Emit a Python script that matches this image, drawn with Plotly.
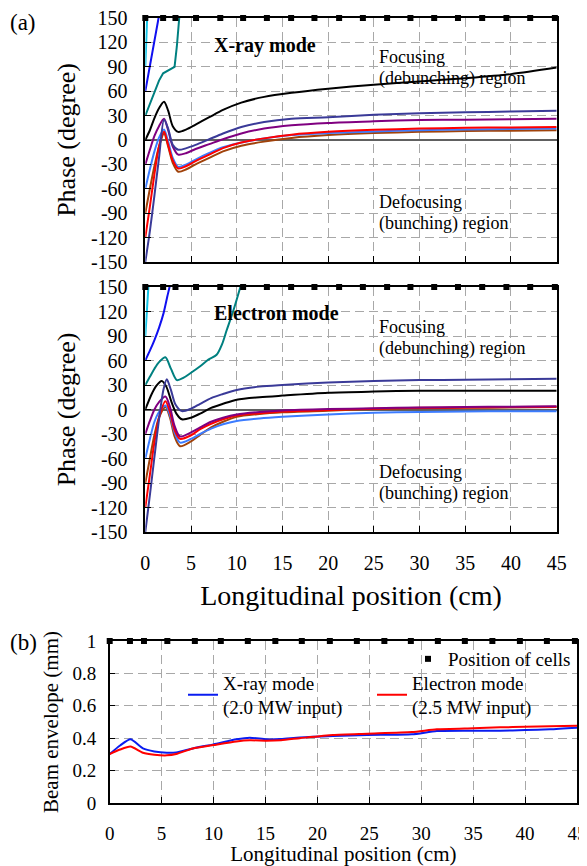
import plotly.graph_objects as go

# browser page has an 8px body margin; figure shifted to compensate
OFF = 8
W, H = 587 - OFF, 866 - OFF
FONT = "Liberation Serif"

# ---------------- data ----------------
cell_positions = [0, 1.95, 3.3, 5.55, 8.2, 10.7, 13.3, 15.95, 18.5, 21.2, 23.8,
                  26.45, 29.0, 31.6, 34.2, 36.85, 39.5, 42.1, 44.8]

phase_ticks = [-150, -120, -90, -60, -30, 0, 30, 60, 90, 120, 150]
phase_tick_labels = ["-150", "-120", "-90", "-60", "-30", "0", "30", "60", "90", "120", "150"]
pos_ticks = [0, 5, 10, 15, 20, 25, 30, 35, 40, 45]
env_ticks = [0, 0.2, 0.4, 0.6, 0.8, 1]
env_tick_labels = ["0", "0.2", "0.4", "0.6", "0.8", "1"]

# X-ray mode phase curves
xr_grid = [0, 0.5, 1.0, 1.5, 2.05, 2.5, 3.0, 3.6, 4.5, 5.5, 7, 8.5, 10.5, 13, 16, 20, 25, 30, 35, 40, 45]
xr_black = [0, 12, 27, 39, 47, 36, 17, 10, 13, 19, 28, 37, 46, 53, 58, 63, 68, 72, 76, 81, 89]
xr_navy = [-150, -112, -68, -22, 25, 14, -6, -12, -10, -6, 1, 8, 16, 22, 26, 28, 31, 33, 34, 35, 36]
xr_purple = [-30, -12, 5, 17, 26, 12, -8, -18, -16, -11, -5, 1, 8, 14, 18, 21, 23, 24.5, 25, 25.5, 26]
xr_lightblue = [-60, -36, -14, 3, 13, -2, -22, -33, -30, -24, -16, -9, -3, 2, 6, 8.5, 10.5, 12, 13, 13.5, 14]
xr_red = [-120, -82, -42, -8, 10, -6, -25, -35, -32, -26, -18, -10, -3, 2, 6.5, 10, 12.5, 14, 15, 15.5, 16]
xr_brown = [-90, -60, -32, -8, 8, -8, -28, -39, -36, -30, -22, -14, -7, -2, 2.5, 6, 8.5, 10, 11, 11.5, 12]
xr_teal_x = [0, 0.5, 1.0, 1.5, 1.95, 2.6, 3.2, 3.45, 3.7, 3.9]
xr_teal = [30, 45, 60, 73, 82, 86, 90, 115, 150, 175]
xr_blue_x = [0, 1.45, 1.7]
xr_blue = [60, 150, 180]
xr_cyan_x = [0, 0.2, 0.3]
xr_cyan = [90, 150, 180]

# Electron mode phase curves
el_grid = [0, 0.5, 1.0, 1.5, 2.2, 2.7, 3.2, 3.8, 5.0, 6.0, 7.2, 8.5, 10, 12.5, 15, 20, 25, 30, 35, 40, 45]
el_purple = [-30, -14, 0, 9, 16, 3, -20, -33, -28, -22, -15, -10, -6, -3, -1.2, 0.5, 1.5, 2.5, 3, 3.5, 4]
el_red = [-120, -80, -40, -10, 10, -3, -25, -36, -31.6, -24, -17.4, -12, -7.3, -4.5, -2.4, -0.5, 1, 2, 2.5, 3, 3.5]
el_brown = [-90, -60, -31, -10, 3, -10, -33, -45, -39, -31, -22, -15, -9, -5.5, -3.5, -1.5, 0.5, 1.5, 2, 2.5, 3]
el_lightblue = [-60, -36, -15, -3, 5, -7, -28, -40.5, -36, -30, -23.5, -18, -14, -11, -9, -6, -4, -3, -2.5, -2, -2]
el_black_x = [0, 0.7, 1.2, 1.8, 2.3, 2.9, 3.4, 4.0, 5.0, 6.0, 7.2, 8.5, 10, 12.5, 15, 20, 25, 30, 35, 40, 45]
el_black = [0, 19, 29, 35, 28, 8, -5, -12, -10, -5, 2, 7, 12, 15, 17, 20.5, 22, 23, 23, 23, 23]
el_navy_x = [0, 0.5, 1.0, 1.5, 2.0, 2.35, 2.8, 3.3, 4.0, 5.0, 6.0, 7.2, 8.5, 10, 12.5, 15, 20, 25, 30, 35, 40, 45]
el_navy = [-150, -105, -58, -12, 25, 37, 24, 6, -2, 1, 7, 14, 19, 24, 28, 30, 33, 35, 36, 36.5, 37, 37.5]
el_teal_x = [0, 0.5, 1.0, 1.5, 2.2, 2.8, 3.45, 4.2, 5.0, 6.0, 6.9, 7.8, 8.4, 8.9, 9.6, 10.4, 10.7]
el_teal = [30, 40, 50, 58, 64, 50, 36, 39, 45, 53, 61, 67, 80, 97, 120, 150, 162]
el_blue_x = [0, 0.5, 1.0, 1.5, 2.0, 2.4, 2.65, 2.8]
el_blue = [60, 72, 85, 100, 118, 138, 150, 160]
el_cyan_x = [0, 0.33, 0.45]
el_cyan = [90, 150, 170]

# Beam envelope
env_x = [0, 1.0, 2.0, 3.2, 4.3, 5.5, 6.4, 8.0, 10.0, 12.2, 13.5, 15.1, 16.5, 18.3, 21.5, 24.8, 29.1, 31.5, 35, 37.6, 40, 42.4, 45]
env_xray = [0.302, 0.355, 0.393, 0.337, 0.318, 0.31, 0.312, 0.337, 0.362, 0.393, 0.403, 0.393, 0.395, 0.405, 0.414,
            0.42, 0.424, 0.444, 0.446, 0.446, 0.45, 0.455, 0.465]
env_electron = [0.302, 0.33, 0.348, 0.31, 0.298, 0.294, 0.302, 0.337, 0.358, 0.38, 0.387, 0.385, 0.388, 0.4, 0.42,
                0.428, 0.438, 0.455, 0.462, 0.467, 0.47, 0.474, 0.477]

# colours
C_CYAN = "#14c4e6"
C_BLUE = "#1010f0"
C_TEAL = "#008080"
C_BLACK = "#000000"
C_NAVY = "#3a3a98"
C_PURPLE = "#800080"
C_RED = "#ff0000"
C_LBLUE = "#3c7cff"
C_BROWN = "#a0420a"


def px_x(p):
    return (p - OFF) / W


def px_y(p):
    return 1 - (p - OFF) / H


def fnt(size):
    return dict(family=FONT, size=size, color="black")


fig = go.Figure()


def add_line(x, y, color, xa, ya, shape="spline"):
    fig.add_trace(go.Scatter(x=x, y=y, mode="lines", xaxis=xa, yaxis=ya, showlegend=False,
                             line=dict(color=color, width=2, shape=shape, smoothing=0.8),
                             hoverinfo="skip"))


# top panel (X-ray)
for yv, c in [(xr_brown, C_BROWN), (xr_lightblue, C_LBLUE), (xr_red, C_RED), (xr_purple, C_PURPLE),
              (xr_navy, C_NAVY), (xr_black, C_BLACK)]:
    add_line(xr_grid, yv, c, "x", "y")
add_line(xr_teal_x, xr_teal, C_TEAL, "x", "y", "linear")
add_line(xr_blue_x, xr_blue, C_BLUE, "x", "y", "linear")
add_line(xr_cyan_x, xr_cyan, C_CYAN, "x", "y", "linear")

# middle panel (Electron)
for yv, c in [(el_brown, C_BROWN), (el_lightblue, C_LBLUE), (el_red, C_RED), (el_purple, C_PURPLE)]:
    add_line(el_grid, yv, c, "x2", "y2")
add_line(el_black_x, el_black, C_BLACK, "x2", "y2")
add_line(el_navy_x, el_navy, C_NAVY, "x2", "y2")
add_line(el_teal_x, el_teal, C_TEAL, "x2", "y2")
add_line(el_blue_x, el_blue, C_BLUE, "x2", "y2")
add_line(el_cyan_x, el_cyan, C_CYAN, "x2", "y2", "linear")

# cell markers
for xa, ya, yv, leg in [("x", "y", 150, False), ("x2", "y2", 150, False), ("x3", "y3", 1, True)]:
    fig.add_trace(go.Scatter(x=cell_positions, y=[yv] * len(cell_positions), mode="markers",
                             xaxis=xa, yaxis=ya, cliponaxis=False, showlegend=leg,
                             name="Position of cells", legend="legend",
                             marker=dict(symbol="square", size=6, color="black"), hoverinfo="skip"))

# envelope
fig.add_trace(go.Scatter(x=env_x, y=env_xray, mode="lines", xaxis="x3", yaxis="y3",
                         name="X-ray mode<br>(2.0 MW input)", legend="legend2",
                         line=dict(color="#0a1cf0", width=2, shape="spline", smoothing=0.6)))
fig.add_trace(go.Scatter(x=env_x, y=env_electron, mode="lines", xaxis="x3", yaxis="y3",
                         name="Electron mode<br>(2.5 MW input)", legend="legend3",
                         line=dict(color="#ff0000", width=2, shape="spline", smoothing=0.6)))

grid_common = dict(showgrid=True, gridcolor="#a8a8a8", griddash="9px,5px", gridwidth=1,
                   showline=True, linecolor="black", linewidth=1.5, mirror=True,
                   ticks="inside", ticklen=6, tickcolor="black", automargin=False,
                   ticklabeloverflow="allow")

dom_x12 = [px_x(145.3), px_x(556.7)]
dom_x3 = [px_x(109.7), px_x(577)]

fig.update_layout(
    width=W, height=H, margin=dict(l=0, r=0, t=0, b=0),
    paper_bgcolor="white", plot_bgcolor="white",
    font=fnt(20),
    xaxis=dict(domain=dom_x12, anchor="y", range=[0, 45], tickvals=pos_ticks, showticklabels=False,
               zeroline=False, **grid_common),
    yaxis=dict(domain=[px_y(262), px_y(18)], anchor="x", range=[-150, 150], tickvals=phase_ticks,
               ticktext=phase_tick_labels, tickfont=fnt(20), ticklabelstandoff=12,
               zeroline=True, zerolinecolor="#606060", zerolinewidth=1.5,
               title=dict(text="Phase (degree)", font=fnt(26), standoff=8), **grid_common),
    xaxis2=dict(domain=dom_x12, anchor="y2", range=[0, 45], tickvals=pos_ticks,
                tickfont=fnt(20), ticklabelstandoff=12, zeroline=False,
                title=dict(text="Longitudinal position (cm)", font=fnt(28), standoff=13), **grid_common),
    yaxis2=dict(domain=[px_y(532), px_y(287)], anchor="x2", range=[-150, 150], tickvals=phase_ticks,
                ticktext=phase_tick_labels, tickfont=fnt(20), ticklabelstandoff=12,
                zeroline=True, zerolinecolor="#606060", zerolinewidth=1.5,
                title=dict(text="Phase (degree)", font=fnt(26), standoff=8), **grid_common),
    xaxis3=dict(domain=dom_x3, anchor="y3", range=[0, 45], tickvals=pos_ticks,
                tickfont=fnt(19), ticklabelstandoff=12, zeroline=False,
                title=dict(text="Longitudinal position (cm)", font=fnt(21), standoff=12), **grid_common),
    yaxis3=dict(domain=[px_y(803), px_y(641)], anchor="x3", range=[0, 1], tickvals=env_ticks,
                ticktext=env_tick_labels, tickfont=fnt(19), ticklabelstandoff=8, zeroline=False,
                title=dict(text="Beam envelope (mm)", font=fnt(21), standoff=8), **grid_common),
    legend=dict(x=px_x(408), y=px_y(659), xanchor="left", yanchor="middle", bgcolor="rgba(0,0,0,0)",
                font=fnt(19), borderwidth=0),
    legend2=dict(x=px_x(183), y=px_y(695), xanchor="left", yanchor="middle", bgcolor="rgba(0,0,0,0)",
                 font=fnt(19), borderwidth=0),
    legend3=dict(x=px_x(372), y=px_y(695), xanchor="left", yanchor="middle", bgcolor="rgba(0,0,0,0)",
                 font=fnt(19), borderwidth=0),
)

ann = [
    ("(a)", 8, 22, 23, False),
    ("(b)", 8, 642, 23, False),
    ("X-ray mode", 212, 45, 20, True),
    ("Focusing", 377, 57, 18, False),
    ("(debunching) region", 377, 78, 18, False),
    ("Defocusing", 377, 202, 18, False),
    ("(bunching) region", 377, 223, 18, False),
    ("Electron mode", 212, 313, 20, True),
    ("Focusing", 377, 327, 18, False),
    ("(debunching) region", 377, 348, 18, False),
    ("Defocusing", 377, 472, 18, False),
    ("(bunching) region", 377, 493, 18, False),
]
for text, x, y, size, bold in ann:
    fig.add_annotation(x=px_x(x), y=px_y(y), xref="paper", yref="paper", showarrow=False,
                       text=f"<b>{text}</b>" if bold else text, xanchor="left", yanchor="middle",
                       font=fnt(size))

fig.write_html("out.html")
